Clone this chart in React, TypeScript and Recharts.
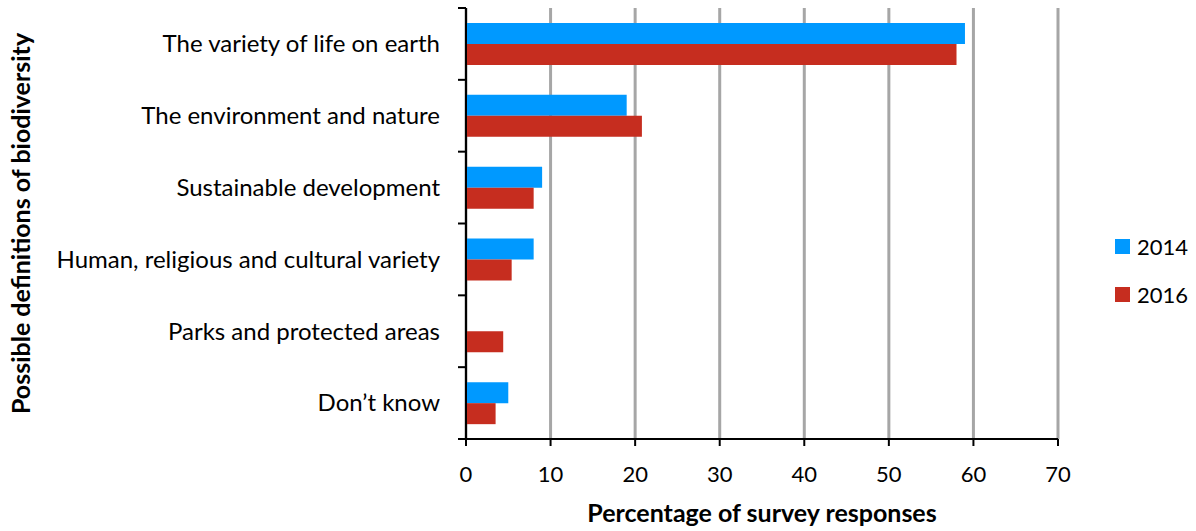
import React from 'react';
import { BarChart, Bar, XAxis, YAxis, CartesianGrid, Legend } from 'recharts';

const CATEGORIES = [
  'The variety of life on earth',
  'The environment and nature',
  'Sustainable development',
  'Human, religious and cultural variety',
  'Parks and protected areas',
  'Don\u2019t know',
];
const VALUES_2014: (number | null)[] = [59, 19, 9, 8, null, 5];
const VALUES_2016: (number | null)[] = [58, 20.8, 8, 5.4, 4.4, 3.5];
const X_TICKS = [0, 10, 20, 30, 40, 50, 60, 70];

const BLUE = '#0099FF';
const RED = '#C62D1F';
const FONT = 'Lato, "Open Sans", sans-serif';
const AXIS_W = 466;

const data = CATEGORIES.map((name, i) => ({ name, y2014: VALUES_2014[i], y2016: VALUES_2016[i] }));

// category labels + Excel-style tick marks between the bands
const CategoryTick = (props: any) => {
  const { x, y, payload, index, visibleTicksCount } = props;
  const half = payload?.offset ?? 36;
  const last = index === visibleTicksCount - 1;
  return (
    <g>
      <line x1={AXIS_W - 8} x2={AXIS_W} y1={y - half} y2={y - half} stroke="#000" strokeWidth={2} />
      {last && <line x1={AXIS_W - 8} x2={AXIS_W} y1={y + half} y2={y + half} stroke="#000" strokeWidth={2} />}
      <text x={x} y={y} dy="0.35em" textAnchor="end" fill="#000" fontSize={24} fontFamily={FONT}>
        {payload.value}
      </text>
    </g>
  );
};

const YTitle = (props: any) => {
  const vb = props.viewBox;
  const cx = 20;
  const cy = vb.y + vb.height / 2;
  return (
    <text x={cx} y={cy} transform={`rotate(-90 ${cx} ${cy})`} textAnchor="middle" dominantBaseline="central"
      fontSize={25} fontWeight={700} fontFamily={FONT} fill="#000">
      Possible definitions of biodiversity
    </text>
  );
};

const LegendBox = () => (
  <div style={{ fontFamily: FONT, fontSize: 22, color: '#000' }}>
    {[{ c: BLUE, t: '2014' }, { c: RED, t: '2016' }].map((it, i) => (
      <div key={it.t} style={{ display: 'flex', alignItems: 'center', height: 24, marginTop: i ? 24 : 0 }}>
        <span style={{ width: 15, height: 15, background: it.c, display: 'inline-block', marginRight: 7 }} />
        <span>{it.t}</span>
      </div>
    ))}
  </div>
);

export default function App() {
  return (
    <div style={{ width: 1196, height: 531, background: '#fff' }}>
      <style>{'body{margin:0}'}</style>
      <BarChart
        width={1196}
        height={531}
        data={data}
        layout="vertical"
        margin={{ top: 8, right: 58, bottom: 0, left: 0 }}
        barSize={21}
        barGap={0}
      >
        <CartesianGrid horizontal={false} stroke="#A6A6A6" strokeWidth={3} />
        <XAxis
          type="number"
          domain={[0, 70]}
          ticks={X_TICKS}
          interval={0}
          height={92}
          tickSize={7}
          tickMargin={20}
          axisLine={{ stroke: '#000', strokeWidth: 2 }}
          tickLine={{ stroke: '#000', strokeWidth: 2 }}
          tick={{ fill: '#000', fontSize: 22, fontFamily: FONT }}
          label={{ value: 'Percentage of survey responses', position: 'insideBottom', offset: 9, fill: '#000', fontSize: 25, fontWeight: 700, fontFamily: FONT }}
        />
        <YAxis
          type="category"
          dataKey="name"
          width={AXIS_W}
          interval={0}
          tickSize={8}
          tickMargin={18}
          axisLine={{ stroke: '#000', strokeWidth: 2 }}
          tickLine={{ stroke: 'none' }}
          tick={<CategoryTick />}
          label={<YTitle />}
        />
        <Legend
          layout="vertical"
          align="right"
          verticalAlign="middle"
          width={80}
          wrapperStyle={{ left: 1115, top: 234, right: 'auto' }}
          content={<LegendBox />}
        />
        <Bar dataKey="y2014" name="2014" fill={BLUE} isAnimationActive={false} />
        <Bar dataKey="y2016" name="2016" fill={RED} isAnimationActive={false} />
      </BarChart>
    </div>
  );
}
